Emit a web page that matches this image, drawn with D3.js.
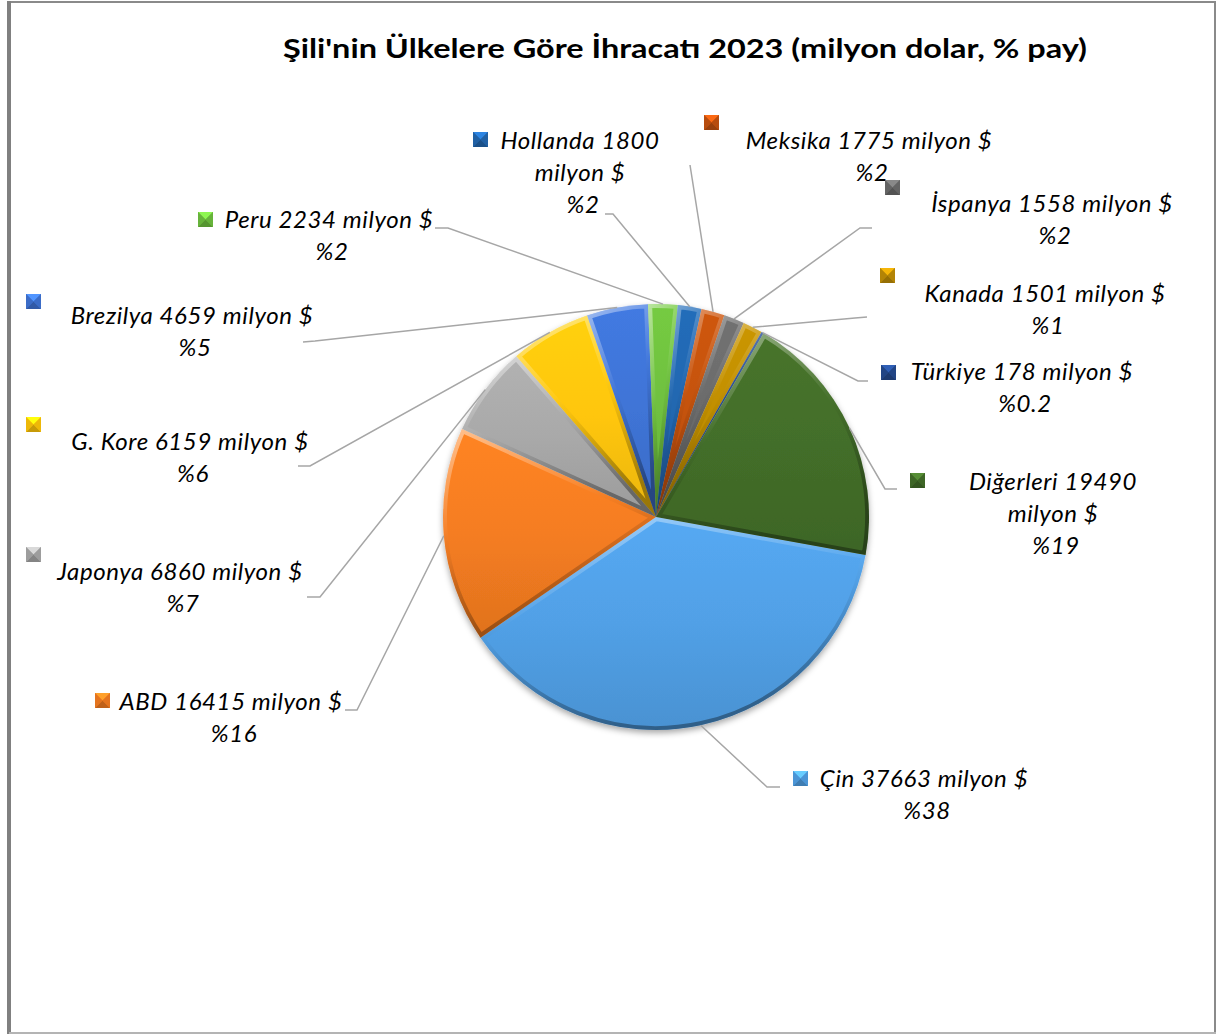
<!DOCTYPE html>
<html><head><meta charset="utf-8">
<script src="https://cdn.jsdelivr.net/npm/d3@7"></script>
<style>
body{margin:0;background:#fff}
svg{display:block}
text{font-family:Lato,"Open Sans",sans-serif;fill:#000}
</style>
</head><body>
<svg id="chart" width="1219" height="1034"></svg>
<script>
const countries = ["Çin","ABD","Japonya","G. Kore","Brezilya","Peru","Hollanda","Meksika","İspanya","Kanada","Türkiye","Diğerleri"];
const values = [37663,16415,6860,6159,4659,2234,1800,1775,1558,1501,178,19490];
const colors = ["#51a0e6","#f57d21","#a9a9a9","#ffc60a","#3f74d6","#6fc03f","#2267b0","#c4520f","#6b6b6b","#c08e06","#254a8e","#436e29"];
const titleText = "Şili'nin Ülkelere Göre İhracatı 2023 (milyon dolar, % pay)";
const unitText = "milyon $";

// labels are hand placed in the original, so keep that placement here
const labelLayout = [
  {tx:924, ty:787, wrap:false, mx:793, my:771, hook:[780,787,767,787]},
  {tx:231, ty:710, wrap:false, mx:95,  my:693, hook:[345,710,357,710]},
  {tx:180, ty:580, wrap:false, mx:26,  my:547, hook:[307,597,320,597]},
  {tx:190, ty:450, wrap:false, mx:26,  my:417, hook:[298,466,310,466]},
  {tx:192, ty:324, wrap:false, mx:26,  my:294, hook:[303,342,315,341]},
  {tx:329, ty:228, wrap:false, mx:198, my:212, hook:[435,228,448,228]},
  {tx:580, ty:149, wrap:true,  mx:473, my:132, hook:[605,214,613,214]},
  {tx:869, ty:149, wrap:false, mx:704, my:115, hook:[690,165,690,165]},
  {tx:1052,ty:212, wrap:false, mx:885, my:180, hook:[872,228,860,228]},
  {tx:1045,ty:302, wrap:false, mx:880, my:268, hook:[867,317,855,318]},
  {tx:1022,ty:380, wrap:false, mx:881, my:365, hook:[868,381,858,381]},
  {tx:1053,ty:490, wrap:true,  mx:910, my:473, hook:[897,489,885,489]}
];

const svg = d3.select("#chart"),
    width = +svg.attr("width"),
    height = +svg.attr("height");

const cx = 656, cy = 517, radius = 213;
const firstSliceAngle = 100.3 * Math.PI / 180;
const total = d3.sum(values);
const pctFmt = v => { const p = v / total * 100; return "%" + (p < 1 ? p.toFixed(1) : Math.round(p)); };

const data = countries.map((c, i) => ({name: c, value: values[i], color: colors[i], lay: labelLayout[i]}));

// frame
svg.append("rect").attr("x", 9).attr("y", 2).attr("width", 1206).attr("height", 1031)
    .attr("fill", "#fff").attr("stroke", "#8a8a8a").attr("stroke-width", 2);
svg.append("line").attr("x1", 9).attr("x2", 9).attr("y1", 1).attr("y2", 1034)
    .attr("stroke", "#808080").attr("stroke-width", 4);
svg.append("line").attr("x1", 9).attr("x2", 1216).attr("y1", 1033).attr("y2", 1033)
    .attr("stroke", "#b4b4b4").attr("stroke-width", 2);

svg.append("text").attr("x", 685).attr("y", 58).attr("text-anchor", "middle")
    .attr("font-size", 27).attr("font-weight", "bold")
    .attr("textLength", 804).attr("lengthAdjust", "spacingAndGlyphs")
    .text(titleText);

const defs = svg.append("defs");
const shadow = defs.append("filter").attr("id", "shadow")
    .attr("x", "-10%").attr("y", "-10%").attr("width", "120%").attr("height", "125%");
shadow.append("feDropShadow").attr("dx", 0).attr("dy", 3).attr("stdDeviation", 3)
    .attr("flood-color", "#000").attr("flood-opacity", 0.35);

const pie = d3.pie().sort(null).value(d => d.value)
    .startAngle(firstSliceAngle).endAngle(firstSliceAngle + 2 * Math.PI);
const arc = d3.arc().innerRadius(0).outerRadius(radius);
const edgeArc = d3.arc().innerRadius(radius).outerRadius(radius);
const arcs = pie(data);

arcs.forEach((a, i) => {
  const base = d3.color(a.data.color);
  const g = defs.append("linearGradient").attr("id", "fill" + i)
      .attr("x1", 0).attr("y1", 0).attr("x2", 0).attr("y2", 1);
  g.append("stop").attr("offset", 0).attr("stop-color", base.brighter(0.15));
  g.append("stop").attr("offset", 0.5).attr("stop-color", base);
  g.append("stop").attr("offset", 1).attr("stop-color", base.darker(0.25));
  const r = defs.append("linearGradient").attr("id", "rim" + i)
      .attr("x1", 0).attr("y1", 0).attr("x2", 0.3).attr("y2", 1);
  r.append("stop").attr("offset", 0).attr("stop-color", "#fff").attr("stop-opacity", 0.5);
  r.append("stop").attr("offset", 0.45).attr("stop-color", "#fff").attr("stop-opacity", 0.05);
  r.append("stop").attr("offset", 0.55).attr("stop-color", "#000").attr("stop-opacity", 0.03);
  r.append("stop").attr("offset", 1).attr("stop-color", "#000").attr("stop-opacity", 0.35);
  defs.append("clipPath").attr("id", "clip" + i)
      .append("path").attr("transform", `translate(${cx},${cy})`).attr("d", arc(a));
});

const pieG = svg.append("g").attr("transform", `translate(${cx},${cy})`).attr("filter", "url(#shadow)");
pieG.selectAll("path.slice").data(arcs).enter().append("path")
    .attr("class", "slice").attr("d", arc)
    .attr("fill", (d, i) => `url(#fill${i})`);

// bevel rim, clipped inside each slice
const rimG = svg.append("g");
arcs.forEach((a, i) => {
  rimG.append("g").attr("clip-path", `url(#clip${i})`)
    .append("path").attr("transform", `translate(${cx},${cy})`).attr("d", arc(a))
    .attr("fill", "none").attr("stroke", `url(#rim${i})`).attr("stroke-width", 8)
    .attr("stroke-linejoin", "round");
});

// leader lines
const leaders = svg.append("g").attr("fill", "none").attr("stroke", "#a6a6a6").attr("stroke-width", 1.5);
arcs.forEach(a => {
  const h = a.data.lay.hook;
  const e = edgeArc.centroid(a);
  leaders.append("path")
      .attr("d", d3.line()([[h[0], h[1]], [h[2], h[3]], [cx + e[0], cy + e[1]]]));
});

// labels
const labels = svg.append("g").attr("font-size", 24).attr("font-style", "italic")
    .attr("letter-spacing", 0.6).attr("text-anchor", "middle");
arcs.forEach(a => {
  const L = a.data.lay;
  const lines = L.wrap
      ? [a.data.name + " " + a.data.value, unitText, pctFmt(a.data.value)]
      : [a.data.name + " " + a.data.value + " " + unitText, pctFmt(a.data.value)];
  lines.forEach((t, k) => {
    labels.append("text").attr("x", L.tx + (k === lines.length - 1 ? 3 : 0)).attr("y", L.ty + k * 32).text(t);
  });
  // beveled legend key
  const s = 15, x = L.mx, y = L.my, c = d3.color(a.data.color);
  const mk = svg.append("g");
  mk.append("rect").attr("x", x).attr("y", y).attr("width", s).attr("height", s).attr("fill", c);
  const m = [x + s / 2, y + s / 2];
  mk.append("path").attr("d", d3.line()([[x, y], [x + s, y], m])).attr("fill", c.brighter(0.7));
  mk.append("path").attr("d", d3.line()([[x, y + s], [x + s, y + s], m])).attr("fill", c.darker(0.7));
  mk.append("path").attr("d", d3.line()([[x, y], [x, y + s], m])).attr("fill", c.darker(0.2));
  mk.append("path").attr("d", d3.line()([[x + s, y], [x + s, y + s], m])).attr("fill", c.darker(0.2));
});
</script>
</body></html>
